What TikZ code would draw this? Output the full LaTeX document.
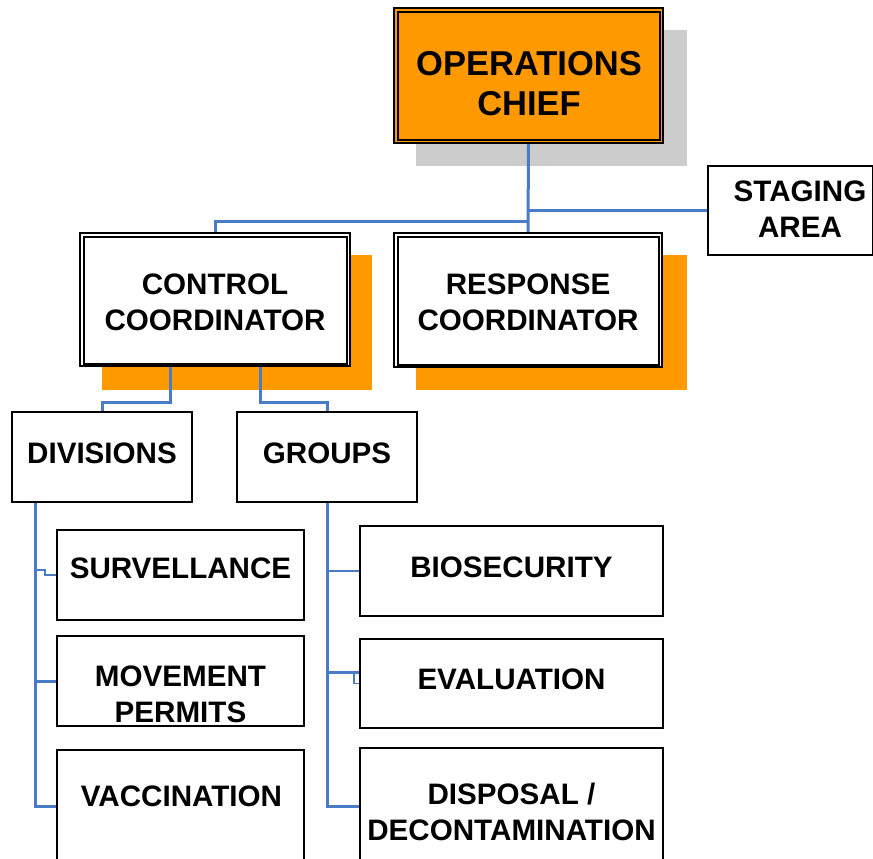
\documentclass[tikz,border=0pt]{standalone}
\usepackage{fontspec}
\setmainfont{Liberation Sans}
\usetikzlibrary{calc}
\definecolor{orng}{HTML}{FF9900}
\definecolor{shgray}{HTML}{CCCCCC}
\definecolor{conblue}{HTML}{4A7BC6}
\begin{document}
\begin{tikzpicture}[x=1pt,y=-1pt,
  box/.style={draw=black,line width=1.6pt,fill=white,inner sep=0pt,rectangle},
  dbox/.style={box,line width=2.2pt},
  inner/.style={draw=black,line width=1.5pt},
  lbl/.style={font=\fontsize{29.6}{36}\selectfont\bfseries,align=center,inner sep=0pt,anchor=base},
  biglbl/.style={font=\fontsize{34.5}{40}\selectfont\bfseries,align=center,inner sep=0pt,anchor=base},
  conn/.style={draw=conblue,line width=3pt},
  thinconn/.style={draw=conblue,line width=1.7pt}]
\useasboundingbox (0,0) rectangle (873,859);
% shadows
\fill[shgray] (416,30) rectangle (687,166);
\fill[orng] (102,255) rectangle (372,390);
\fill[orng] (416,255) rectangle (687,390);
% top-level boxes
\node[dbox,fill=orng,minimum width=269pt,minimum height=135pt] (ops) at (528.5,75.5) {};
\draw[inner] ([shift={(5,5)}]ops.north west) rectangle ([shift={(-4,-4)}]ops.south east);
\node[box,minimum width=165pt,minimum height=89pt] (stg) at (790.5,210.5) {};
\node[dbox,minimum width=270pt,minimum height=133pt] (ctrl) at (215,299.5) {};
\draw[inner] ([shift={(5,5)}]ctrl.north west) rectangle ([shift={(-4,-3)}]ctrl.south east);
\node[dbox,minimum width=268pt,minimum height=134pt] (resp) at (528,300) {};
\draw[inner] ([shift={(5,5)}]resp.north west) rectangle ([shift={(-4,-3)}]resp.south east);
% second level
\node[box,minimum width=180pt,minimum height=90pt] (div) at (102,457) {};
\node[box,minimum width=180pt,minimum height=90pt] (grp) at (327,457) {};
% third level
\node[box,minimum width=247pt,minimum height=90pt] (surv) at (180.5,575) {};
\node[box,minimum width=247pt,minimum height=90pt] (mov) at (180.5,681) {};
\node[box,minimum width=247pt,minimum height=112pt] (vac) at (180.5,806) {};
\node[box,minimum width=303pt,minimum height=90pt] (bio) at (511.5,571) {};
\node[box,minimum width=303pt,minimum height=89pt] (eval) at (511.5,683.5) {};
\node[box,minimum width=303pt,minimum height=116pt] (disp) at (511.5,806) {};
% labels (base anchor = baseline of last line)
\node[biglbl] (tops) at (529,115) {OPERATIONS\\CHIEF};
\node[lbl] (tstg) at (800,237) {STAGING\\AREA};
\node[lbl] (tctrl) at (215,330) {CONTROL\\COORDINATOR};
\node[lbl] (tresp) at (528,330) {RESPONSE\\COORDINATOR};
\node[lbl] (tdiv) at (102,463) {DIVISIONS};
\node[lbl] (tgrp) at (327,463) {GROUPS};
\node[lbl] (tsurv) at (180.5,578) {SURVELLANCE};
\node[lbl] (tmov) at (180.5,722) {MOVEMENT\\PERMITS};
\node[lbl] (tvac) at (181.5,806) {VACCINATION};
\node[lbl] (tbio) at (511.5,577) {BIOSECURITY};
\node[lbl] (teval) at (511.5,689) {EVALUATION};
\node[lbl] (tdisp) at (511.5,840) {DISPOSAL /\\DECONTAMINATION};
% connectors
\coordinate (j1) at (ops.south |- 0,221);
\draw[conn] (ops.south) -- (resp.north);
\draw[conn] (ctrl.north) |- (j1);
\draw[conn] (stg.west) -- (stg.west -| ops.south);
\draw[conn] ([xshift=-45pt]ctrl.south) -- ++(0,35) -| (div.north);
\draw[conn] ([xshift=45pt]ctrl.south) -- ++(0,35) -| (grp.north);
\coordinate (dsp) at ([xshift=-67pt]div.south);
\draw[conn] (dsp) |- (vac.west);
\draw[conn] (mov.west) -- (mov.west -| dsp);
\draw[thinconn] (surv.west) -- ++(-11,0) -- ++(0,-5) -- (dsp |- 0,570);
\draw[conn] (grp.south) |- (disp.west);
\draw[thinconn] (bio.west) -- (bio.west -| grp.south);
\coordinate (ej) at ([yshift=11.5pt]eval.west);
\draw[conn] (ej -| grp.south) -- (ej);
\draw[thinconn] ([xshift=-5pt]ej) -- ([xshift=-5pt]eval.west) -- (eval.west);
\end{tikzpicture}
\end{document}
